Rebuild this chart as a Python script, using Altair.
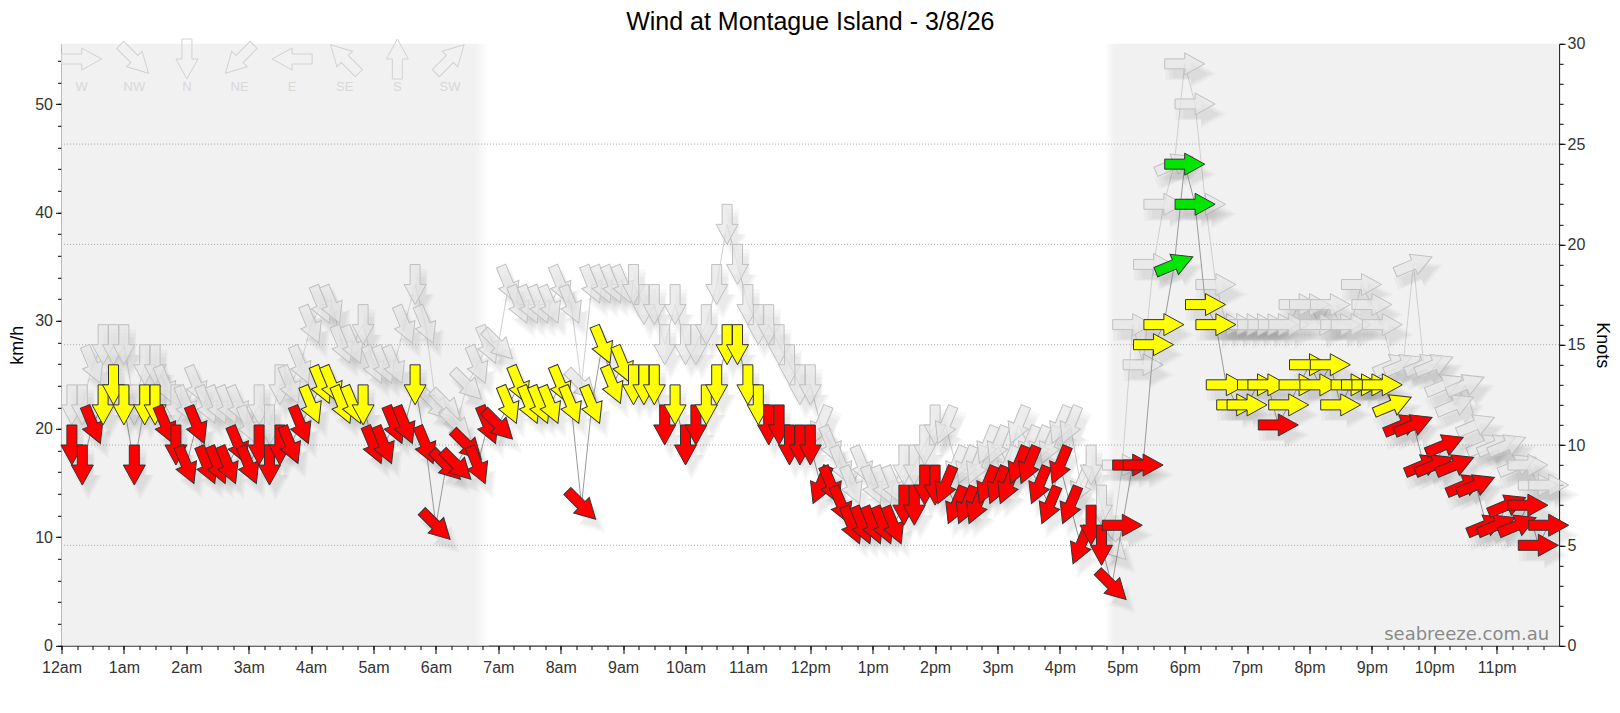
import altair as alt
import pandas as pd

# ---------------- data (knots) ----------------
times = [
    "00:10", "00:20", "00:30", "00:40", "00:50",
    "01:00", "01:10", "01:20", "01:30", "01:40", "01:50",
    "02:00", "02:10", "02:20", "02:30", "02:40", "02:50",
    "03:00", "03:10", "03:20", "03:30", "03:40", "03:50",
    "04:00", "04:10", "04:20", "04:30", "04:40", "04:50",
    "05:00", "05:10", "05:20", "05:30", "05:40", "05:50",
    "06:00", "06:10", "06:20", "06:30", "06:40", "06:50",
    "07:00", "07:10", "07:20", "07:30", "07:40", "07:50",
    "08:00", "08:10", "08:20", "08:30", "08:40", "08:50",
    "09:00", "09:10", "09:20", "09:30", "09:40", "09:50",
    "10:00", "10:10", "10:20", "10:30", "10:40", "10:50",
    "11:00", "11:10", "11:20", "11:30", "11:40", "11:50",
    "12:00", "12:10", "12:20", "12:30", "12:40", "12:50",
    "13:00", "13:10", "13:20", "13:30", "13:40", "13:50",
    "14:00", "14:10", "14:20", "14:30", "14:40", "14:50",
    "15:00", "15:10", "15:20", "15:30", "15:40", "15:50",
    "16:00", "16:10", "16:20", "16:30", "16:40", "16:50",
    "17:00", "17:10", "17:20", "17:30", "17:40", "17:50",
    "18:00", "18:10", "18:20", "18:30", "18:40", "18:50",
    "19:00", "19:10", "19:20", "19:30", "19:40", "19:50",
    "20:00", "20:10", "20:20", "20:30", "20:40", "20:50",
    "21:00", "21:10", "21:20", "21:30", "21:40", "21:50",
    "22:00", "22:10", "22:20", "22:30", "22:40", "22:50",
    "23:00", "23:10", "23:20", "23:30", "23:40", "23:50",
]

speed_kn = [
    10, 9, 11, 12, 13,
    12, 9, 12, 12, 11, 10,
    9, 11, 9, 9, 9, 10,
    9, 10, 9, 10, 10, 11,
    12, 13, 13, 12, 12, 12,
    10, 10, 11, 11, 13, 10,
    6, 9, 9, 10, 9, 11,
    11, 12, 13, 12, 12, 12,
    13, 12, 7, 12, 15, 13,
    14, 13, 13, 13, 11, 12,
    10, 11, 12, 13, 15, 15,
    13, 12, 11, 11, 10, 10,
    10, 8, 8, 7, 6, 6,
    6, 6, 6, 7, 7, 8,
    8, 8, 7, 7, 7, 8,
    8, 8, 9, 9, 8, 7,
    9, 7, 5, 6, 5, 3,
    6, 9, 9, 15, 16, 19,
    24, 22, 17, 16, 13, 12,
    12, 13, 13, 11, 12, 13,
    14, 13, 14, 12, 13, 13,
    13, 13, 12, 11, 11, 9,
    9, 10, 9, 8, 8, 6,
    6, 7, 6, 7, 5, 6,
]

gust_kn = [
    12, 12, 14, 15, 15,
    15, 12, 14, 14, 13, 12,
    12, 13, 12, 12, 12, 12,
    11, 12, 11, 13, 13, 14,
    16, 17, 17, 15, 15, 16,
    14, 14, 14, 16, 18, 16,
    12, 12, 11, 13, 14, 15,
    15, 18, 17, 17, 17, 17,
    18, 17, 13, 18, 18, 18,
    18, 18, 17, 17, 15, 17,
    15, 15, 16, 18, 21, 19,
    17, 16, 16, 15, 14, 13,
    13, 11, 10, 9, 8, 9,
    8, 8, 8, 9, 9, 10,
    11, 11, 9, 9, 9, 10,
    10, 9, 11, 10, 10, 10,
    11, 11, 8, 9, 7, 5,
    9, 16, 14, 19, 22, 24,
    29, 27, 22, 18, 16, 16,
    16, 16, 16, 16, 16, 17,
    17, 16, 17, 16, 16, 18,
    17, 16, 14, 14, 19, 14,
    14, 13, 12, 13, 11, 10,
    10, 10, 9, 9, 8, 8,
]

direction = [
    "N", "N", "NNW", "N", "N",
    "N", "N", "N", "N", "NNW", "N",
    "NNW", "NNW", "NNW", "NNW", "NNW", "NNW",
    "NNW", "N", "N", "N", "NNW", "NNW",
    "NNW", "NNW", "NNW", "NNW", "NNW", "N",
    "NNW", "NNW", "NNW", "NNW", "N", "NNW",
    "NW", "NW", "NW", "NW", "NNW", "NNW",
    "NW", "NNW", "NNW", "NNW", "NNW", "NNW",
    "NNW", "NNW", "NW", "NNW", "NNW", "NNW",
    "NNW", "N", "N", "N", "N", "N",
    "N", "N", "N", "N", "N", "N",
    "N", "N", "N", "N", "N", "N",
    "N", "NNE", "NNW", "NNW", "NNW", "NNW",
    "NNW", "NNW", "NNW", "N", "N", "N",
    "N", "NNE", "NNE", "NNE", "NNE", "NNE",
    "NNE", "NNE", "NNE", "NNE", "NNE", "NNE",
    "NNE", "NNE", "NNE", "N", "N", "NW",
    "W", "W", "W", "W", "W", "WSW",
    "W", "W", "W", "W", "W", "W",
    "W", "W", "W", "W", "W", "W",
    "W", "W", "W", "W", "W", "W",
    "W", "W", "WSW", "WSW", "WSW", "WSW",
    "WSW", "WSW", "WSW", "WSW", "WSW", "WSW",
    "WSW", "WSW", "WSW", "W", "W", "W",
]

hour_labels = ["12am", "1am", "2am", "3am", "4am", "5am", "6am", "7am", "8am",
               "9am", "10am", "11am", "12pm", "1pm", "2pm", "3pm", "4pm", "5pm",
               "6pm", "7pm", "8pm", "9pm", "10pm", "11pm"]
kmh_ticks = [0, 10, 20, 30, 40, 50]
knot_ticks = [0, 5, 10, 15, 20, 25, 30]
knot_grid = [5, 10, 15, 20, 25]
compass_labels = ["W", "NW", "N", "NE", "E", "SE", "S", "SW"]
night_start = [0.0, 16.72]
night_end = [6.85, 24.0]

COMPASS = {"N": 0, "NNE": 22.5, "NE": 45, "ENE": 67.5, "E": 90, "ESE": 112.5,
           "SE": 135, "SSE": 157.5, "S": 180, "SSW": 202.5, "SW": 225,
           "WSW": 247.5, "W": 270, "WNW": 292.5, "NW": 315, "NNW": 337.5}
KMH_PER_KNOT = 1.852

# ---------------- layout / style ----------------
W = 1497.6
H = 601.8
ARROW = "M-1,-0.25L0,-0.25L0,-0.55L1,0L0,0.55L0,0.25L-1,0.25Z"
FONT = "Liberation Sans"

df = pd.DataFrame({"time": times, "speed": speed_kn, "gust": gust_kn, "dir": direction})
df["t"] = df["time"].map(lambda s: int(s[:2]) + int(s[3:]) / 60.0)
df["ang"] = df["dir"].map(lambda d: (COMPASS[d] + 90) % 360)

xs = alt.Scale(domain=[0, 24], nice=False, zero=False)
kn_scale = alt.Scale(domain=[0, 30], nice=False)
kmh_scale = alt.Scale(domain=[0, 30 * KMH_PER_KNOT], nice=False)


def X(f):
    return alt.X(f, type="quantitative", scale=xs, axis=None)


def Yk(f):
    return alt.Y(f, type="quantitative", scale=kn_scale, axis=None)


AX = dict(domainColor="#000", tickColor="#000", labelFont=FONT, labelFontSize=16,
          labelColor="#333", labelFlush=False, labelOverlap=False, grid=False)

# night shading (and plain daytime between the two night spans)
night_df = pd.DataFrame({"start": night_start, "end": night_end})
day_df = pd.DataFrame({"start": [night_end[0]], "end": [night_start[1]]})
grad_left = alt.LinearGradient(gradient="linear", x1=0, x2=1, y1=0, y2=0, stops=[
    alt.GradientStop(color="#f1f1f1", offset=0),
    alt.GradientStop(color="#f1f1f1", offset=0.968),
    alt.GradientStop(color="#ffffff", offset=1)])
grad_right = alt.LinearGradient(gradient="linear", x1=0, x2=1, y1=0, y2=0, stops=[
    alt.GradientStop(color="#ffffff", offset=0),
    alt.GradientStop(color="#f1f1f1", offset=0.02),
    alt.GradientStop(color="#f1f1f1", offset=1)])
night_l = alt.Chart(night_df.iloc[[0]]).mark_rect(color=grad_left).encode(
    x=X("start"), x2="end", y=alt.value(0), y2=alt.value(H))
night_r = alt.Chart(night_df.iloc[[1]]).mark_rect(color=grad_right).encode(
    x=X("start"), x2="end", y=alt.value(0), y2=alt.value(H))
day = alt.Chart(day_df).mark_rect(color="#ffffff").encode(
    x=X("start"), x2="end", y=alt.value(-3), y2=alt.value(H - 1))

# knot grid lines
grid = alt.Chart(pd.DataFrame({"k": knot_grid})).mark_rule(
    color="#a8a8a8", strokeDash=[1, 2], strokeWidth=1).encode(y=Yk("k"))


# axes
def ylayer(vals, scale, axis):
    return alt.Chart(pd.DataFrame({"v": vals})).mark_point(opacity=0).encode(
        y=alt.Y("v:Q", scale=scale, axis=axis))


def xlayer(vals, axis):
    return alt.Chart(pd.DataFrame({"h": vals})).mark_point(opacity=0).encode(
        x=alt.X("h:Q", scale=xs, axis=axis))


label_expr = "[" + ",".join("'%s'" % l for l in hour_labels) + "][datum.value]"

ax_kmh = ylayer(kmh_ticks, kmh_scale, alt.Axis(
    orient="left", values=kmh_ticks, tickSize=6, labelPadding=3, title="km/h",
    titleFont=FONT, titleFontSize=18, titleFontWeight="normal", titleColor="#000",
    titleX=-44, titleY=H / 2, titleAngle=270, titleAlign="center",
    titleBaseline="middle", **AX))
ax_kmh_minor = ylayer(list(range(0, 56, 2)), kmh_scale, alt.Axis(
    orient="left", values=list(range(0, 56, 2)), tickSize=4, labels=False,
    domain=False, title=None, tickColor="#000", grid=False))
ax_kn = ylayer(knot_ticks, kn_scale, alt.Axis(
    orient="right", values=knot_ticks, tickSize=6, labelPadding=2, title="Knots",
    titleFont=FONT, titleFontSize=18, titleFontWeight="normal", titleColor="#000",
    titleX=42, titleY=H / 2, titleAngle=90, titleAlign="center",
    titleBaseline="middle", **AX))
ax_kn_minor = ylayer(list(range(0, 31)), kn_scale, alt.Axis(
    orient="right", values=list(range(0, 31)), tickSize=4, labels=False,
    domain=False, title=None, tickColor="#000", grid=False))
ax_x = xlayer(list(range(24)), alt.Axis(
    orient="bottom", values=list(range(24)), labelExpr=label_expr, tickSize=8,
    labelPadding=6, title=None, **AX))
ax_x_minor = xlayer([q / 4 for q in range(96)], alt.Axis(
    orient="bottom", values=[q / 4 for q in range(96)], tickSize=4, labels=False,
    domain=False, title=None, tickColor="#000", grid=False))

base = alt.Chart(df)
ANG = alt.Angle("ang:Q", scale=None)


def shadows(field):
    out = []
    for sz in (1300, 1900, 2600):
        out.append(base.mark_point(shape=ARROW, filled=True, color="#000", opacity=0.028,
                                   size=sz, xOffset=6, yOffset=10, strokeWidth=0).encode(
            x=X("t"), y=Yk(field), angle=ANG))
    return out


gust_line = base.mark_line(color="#d0d0d0", strokeWidth=1).encode(x=X("t"), y=Yk("gust"))
gust_arrows = base.mark_point(shape=ARROW, filled=True, color="#e6e6e6", opacity=1,
                              fillOpacity=0.7, stroke="#c0c0c0", strokeWidth=1,
                              size=1600).encode(x=X("t"), y=Yk("gust"), angle=ANG)

speed_line = base.mark_line(color="#9a9a9a", strokeWidth=1).encode(x=X("t"), y=Yk("speed"))
speed_arrows = base.mark_point(shape=ARROW, filled=True, opacity=1, stroke="#333",
                               strokeWidth=1, size=1600).encode(
    x=X("t"), y=Yk("speed"), angle=ANG,
    color=alt.Color("speed:Q", scale=alt.Scale(type="threshold", domain=[12, 18],
                    range=["#ff0000", "#ffff00", "#00e600"]), legend=None))

# compass legend
leg = pd.DataFrame({"lab": compass_labels, "idx": list(range(len(compass_labels)))})
leg["ang"] = leg["lab"].map(lambda d: (COMPASS[d] + 90) % 360)
leg_arrows = alt.Chart(leg).transform_calculate(lx="0.324 + 0.843*datum.idx").mark_point(
    shape=ARROW, filled=False, color="#d2d2d2", strokeWidth=1, size=1600, opacity=1).encode(
    x=X("lx"), y=alt.value(15.2), angle=ANG)
leg_text = alt.Chart(leg).transform_calculate(lx="0.324 + 0.843*datum.idx").mark_text(
    font=FONT, fontSize=13, color="#d8d8d8", baseline="middle").encode(
    x=X("lx"), y=alt.value(43.5), text="lab:N")

# watermark
wm = alt.Chart(pd.DataFrame({"w": ["seabreeze.com.au"]})).mark_text(
    font="DejaVu Sans", fontSize=18, color="#8a8a8a", align="right",
    baseline="alphabetic").encode(x=alt.value(W - 10), y=alt.value(H - 6), text="w:N")

chart = alt.layer(
    day, night_l, night_r, grid, leg_arrows, leg_text, wm,
    ax_kmh, ax_kmh_minor, ax_kn, ax_kn_minor, ax_x, ax_x_minor,
    gust_line, *shadows("gust"), gust_arrows,
    speed_line, *shadows("speed"), speed_arrows,
).resolve_scale(y="independent").resolve_axis(x="independent", y="independent").properties(
    width=W, height=H, background="white",
    title=alt.TitleParams("Wind at Montague Island - 3/8/26", font=FONT, fontSize=25,
                          fontWeight="normal", color="#000", anchor="middle",
                          frame="group", offset=0.5),
    autosize=alt.AutoSizeParams(type="none"),
    padding={"left": 53.5, "top": 35.8, "right": 52.9, "bottom": 59.4},
).configure_view(stroke=None).configure_axis(grid=False)

chart.save("out.html", embed_options={"renderer": "svg", "actions": False})
